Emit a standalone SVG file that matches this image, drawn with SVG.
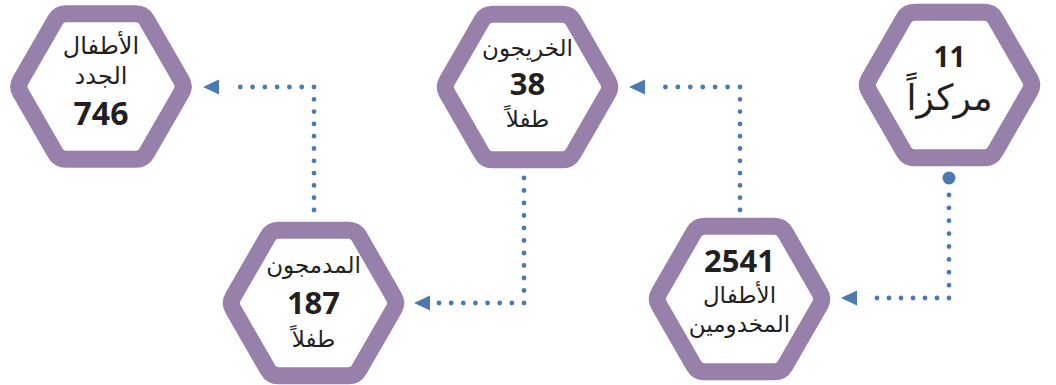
<svg xmlns="http://www.w3.org/2000/svg" xmlns:xlink="http://www.w3.org/1999/xlink" width="1056" height="385" viewBox="0 0 1056 385">
  <style>
    .hex { fill: #ffffff; stroke: #9781ab; stroke-width: 17; stroke-linejoin: round; }
    .dots { fill: none; stroke: #4a79b3; stroke-width: 4.8; stroke-linecap: round; }
    .head { fill: #4a79b3; }
    .ar { font-family: "Noto Sans", "DejaVu Sans", sans-serif; font-size: 23px; fill: #231f20; text-anchor: middle; }
    .num { font-family: "Noto Sans", "Open Sans", "DejaVu Sans", sans-serif; font-weight: bold; font-size: 31px; fill: #231f20; text-anchor: middle; }
  </style>
  <defs>
    <path id="hexShape" d="M-80.5,-6.06 L-45.5,-66.68 Q-42,-72.75 -35,-72.75 L35,-72.75 Q42,-72.75 45.5,-66.68 L80.5,-6.06 Q84,0 80.5,6.06 L45.5,66.68 Q42,72.75 35,72.75 L-35,72.75 Q-42,72.75 -45.5,66.68 L-80.5,6.06 Q-84,0 -80.5,-6.06 Z"/>
  </defs>

  <g id="connectors">
    <circle class="head" cx="949" cy="178" r="6.5"/>
    <path class="dots" d="M949,195 V298" stroke-dasharray="0 12.875"/>
    <path class="dots" d="M949,298 H865" stroke-dasharray="0 12"/>
    <path class="head" d="M841,298 L857,290.5 L857,305.5 Z"/>
    <path class="dots" d="M740,210 V87" stroke-dasharray="0 12.3"/>
    <path class="dots" d="M740,87 H653" stroke-dasharray="0 12.43"/>
    <path class="head" d="M629,87 L645,79.5 L645,94.5 Z"/>
    <path class="dots" d="M524,178 V303" stroke-dasharray="0 12.5"/>
    <path class="dots" d="M524,303 H439" stroke-dasharray="0 12.14"/>
    <path class="head" d="M414,303 L430,295.5 L430,310.5 Z"/>
    <path class="dots" d="M314,210 V87" stroke-dasharray="0 12.3"/>
    <path class="dots" d="M314,87 H228" stroke-dasharray="0 12.29"/>
    <path class="head" d="M203,87 L219,79.5 L219,94.5 Z"/>
  </g>

  <g id="node-new-children">
    <use xlink:href="#hexShape" class="hex" x="101" y="86.5"/>
    <text class="ar" x="101" y="54" style="font-size:24px">الأطفال</text>
    <text class="ar" x="101" y="84" style="font-size:24px">الجدد</text>
    <text class="num" x="101" y="125" style="font-size:32px">746</text>
  </g>

  <g id="node-graduates">
    <use xlink:href="#hexShape" class="hex" x="527.5" y="87"/>
    <text class="ar" x="527.5" y="56">الخريجون</text>
    <text class="num" x="527.5" y="95">38</text>
    <text class="ar" x="527.5" y="127">طفلاً</text>
  </g>

  <g id="node-centers">
    <use xlink:href="#hexShape" class="hex" x="949.5" y="85"/>
    <text class="num" x="949.5" y="67" style="font-size:28px">11</text>
    <text class="ar" x="949.5" y="110" style="font-size:36px">مركزاً</text>
  </g>

  <g id="node-integrated">
    <use xlink:href="#hexShape" class="hex" x="313.5" y="303"/>
    <text class="ar" x="313.5" y="273">المدمجون</text>
    <text class="num" x="313.5" y="314">187</text>
    <text class="ar" x="313.5" y="347">طفلاً</text>
  </g>

  <g id="node-served">
    <use xlink:href="#hexShape" class="hex" x="739.5" y="299"/>
    <text class="num" x="739.5" y="272">2541</text>
    <text class="ar" x="739.5" y="303">الأطفال</text>
    <text class="ar" x="739.5" y="332">المخدومين</text>
  </g>
</svg>
